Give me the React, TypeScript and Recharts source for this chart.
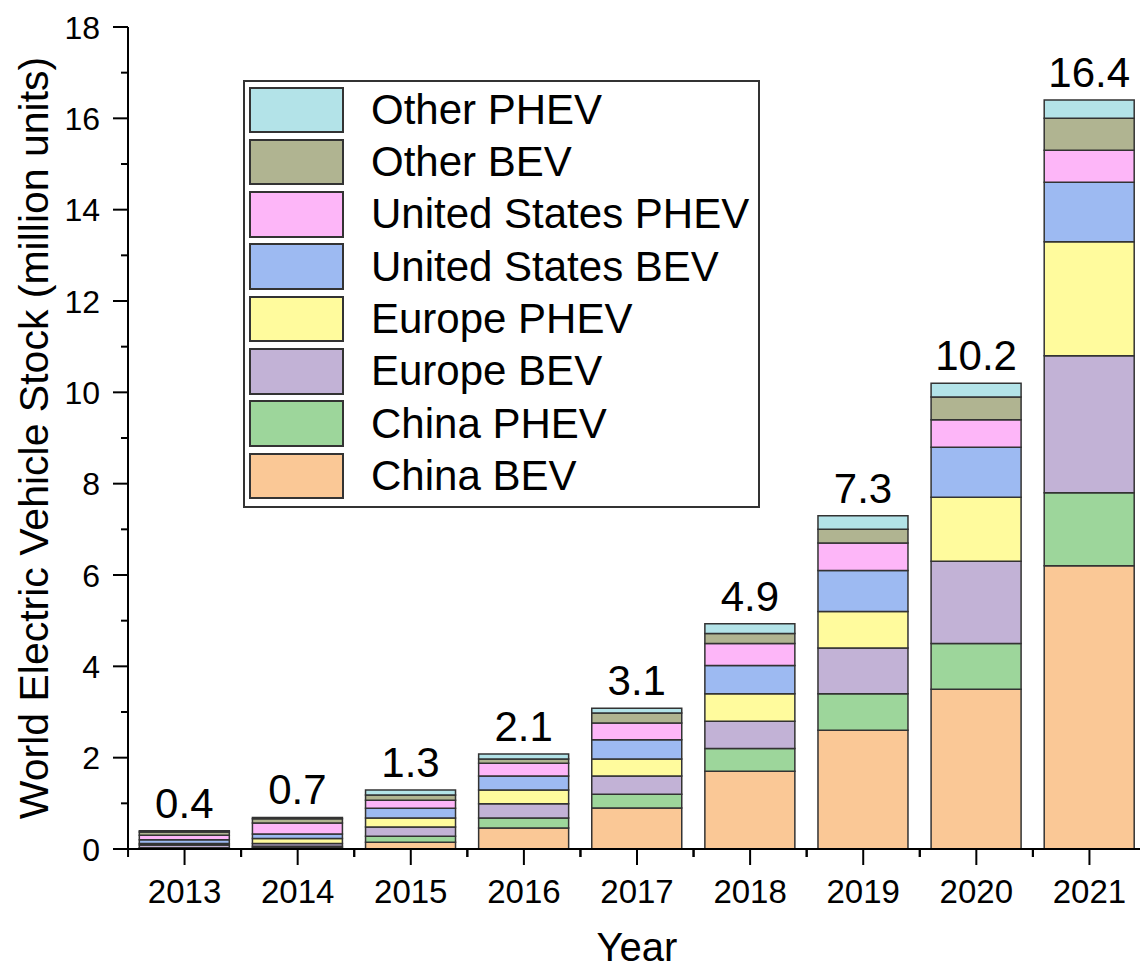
import React from 'react';
import { BarChart, Bar, XAxis, YAxis, Legend, LabelList } from 'recharts';

const years = ['2013', '2014', '2015', '2016', '2017', '2018', '2019', '2020', '2021'];
const chinaBev = [0.01, 0.03, 0.15, 0.46, 0.9, 1.7, 2.6, 3.5, 6.2];
const chinaPhev = [0.02, 0.03, 0.13, 0.22, 0.3, 0.5, 0.8, 1.0, 1.6];
const europeBev = [0.06, 0.06, 0.2, 0.31, 0.4, 0.6, 1.0, 1.8, 3.0];
const europePhev = [0.03, 0.11, 0.2, 0.3, 0.37, 0.6, 0.8, 1.4, 2.5];
const usBev = [0.08, 0.1, 0.21, 0.31, 0.42, 0.62, 0.9, 1.1, 1.3];
const usPhev = [0.1, 0.24, 0.18, 0.28, 0.37, 0.48, 0.6, 0.6, 0.7];
const otherBev = [0.07, 0.09, 0.11, 0.09, 0.22, 0.22, 0.3, 0.5, 0.7];
const otherPhev = [0.03, 0.03, 0.11, 0.11, 0.1, 0.21, 0.3, 0.3, 0.4];
const totals = [0.4, 0.7, 1.3, 2.1, 3.1, 4.9, 7.3, 10.2, 16.4];
const yTicks = [0, 1, 2, 3, 4, 5, 6, 7, 8, 9, 10, 11, 12, 13, 14, 15, 16, 17, 18];

const series = [
  { key: 'China BEV', values: chinaBev, color: '#FAC896' },
  { key: 'China PHEV', values: chinaPhev, color: '#9DD69B' },
  { key: 'Europe BEV', values: europeBev, color: '#C2B2D6' },
  { key: 'Europe PHEV', values: europePhev, color: '#FFFB9D' },
  { key: 'United States BEV', values: usBev, color: '#9DBAF2' },
  { key: 'United States PHEV', values: usPhev, color: '#FDB6F8' },
  { key: 'Other BEV', values: otherBev, color: '#B0B491' },
  { key: 'Other PHEV', values: otherPhev, color: '#B3E3E8' },
];

const data = years.map((year, i) => {
  const row: Record<string, string | number> = { year, total: totals[i] };
  series.forEach(s => { row[s.key] = s.values[i]; });
  return row;
});

const FONT = '"Liberation Sans", Arial, sans-serif';
const AXIS_X = 120;
const AXIS_Y = 841;
const HALF_BAND = 56.5;

const XTick = (props: any) => {
  const cx = props.payload?.coordinate ?? props.x;
  return (
    <g>
      <line x1={cx} y1={AXIS_Y} x2={cx} y2={AXIS_Y + 16} stroke="#000" strokeWidth={2} />
      <line x1={cx - HALF_BAND} y1={AXIS_Y} x2={cx - HALF_BAND} y2={AXIS_Y + 8} stroke="#000" strokeWidth={2} />
      <line x1={cx + HALF_BAND} y1={AXIS_Y} x2={cx + HALF_BAND} y2={AXIS_Y + 8} stroke="#000" strokeWidth={2} />
      <text x={cx} y={895} textAnchor="middle" fontSize={33} fontFamily={FONT} fill="#000">
        {props.payload.value}
      </text>
    </g>
  );
};

const YTick = (props: any) => {
  const y = props.payload?.coordinate ?? props.y;
  const v = props.payload.value;
  const major = v % 2 === 0;
  return (
    <g>
      <line x1={AXIS_X - (major ? 15 : 7)} y1={y} x2={AXIS_X} y2={y} stroke="#000" strokeWidth={2} />
      {major && (
        <text x={92} y={y} dy="0.36em" textAnchor="end" fontSize={32} fontFamily={FONT} fill="#000">
          {v}
        </text>
      )}
    </g>
  );
};

const LegendBox = () => (
  <div
    style={{
      width: 517,
      height: 428,
      boxSizing: 'border-box',
      border: '2px solid #333',
      background: '#fff',
      position: 'relative',
      fontFamily: FONT,
    }}
  >
    {[...series].reverse().map((s, i) => (
      <div key={s.key} style={{ position: 'absolute', left: 4, top: 4.5 + i * 52.3, height: 46.5, display: 'flex', alignItems: 'center' }}>
        <div style={{ width: 95, height: 46.5, boxSizing: 'border-box', background: s.color, border: '2px solid #333' }} />
        <span style={{ marginLeft: 27, fontSize: 42, color: '#000', whiteSpace: 'nowrap' }}>{s.key}</span>
      </div>
    ))}
  </div>
);

export default function App() {
  return (
    <BarChart
      width={1140}
      height={964}
      data={data}
      margin={{ top: 19, right: 2, bottom: 0, left: 0 }}
      barCategoryGap="10%"
    >
      <XAxis
        dataKey="year"
        height={123}
        axisLine={{ stroke: '#000', strokeWidth: 2 }}
        tickLine={false}
        tick={<XTick />}
        interval={0}
        label={{ value: 'Year', position: 'insideBottom', offset: 11, fontSize: 40, fill: '#000', fontFamily: FONT }}
      />
      <YAxis
        width={120}
        domain={[0, 18]}
        ticks={yTicks}
        interval={0}
        axisLine={{ stroke: '#000', strokeWidth: 2 }}
        tickLine={false}
        tick={<YTick />}
        label={{
          value: 'World Electric Vehicle Stock (million units)',
          angle: -90,
          position: 'center',
          dx: -35,
          fontSize: 41,
          fill: '#000',
          fontFamily: FONT,
        }}
      />
      <Legend
        layout="vertical"
        align="center"
        verticalAlign="middle"
        wrapperStyle={{ left: 235, top: 72, width: 517, height: 428 }}
        content={() => <LegendBox />}
      />
      {series.map((s, i) => (
        <Bar
          key={s.key}
          dataKey={s.key}
          stackId="a"
          fill={s.color}
          stroke="#333"
          strokeWidth={1.5}
          isAnimationActive={false}
        >
          {i === series.length - 1 && (
            <LabelList dataKey="total" position="top" offset={13} fontSize={42} fill="#000" fontFamily={FONT} />
          )}
        </Bar>
      ))}
    </BarChart>
  );
}
